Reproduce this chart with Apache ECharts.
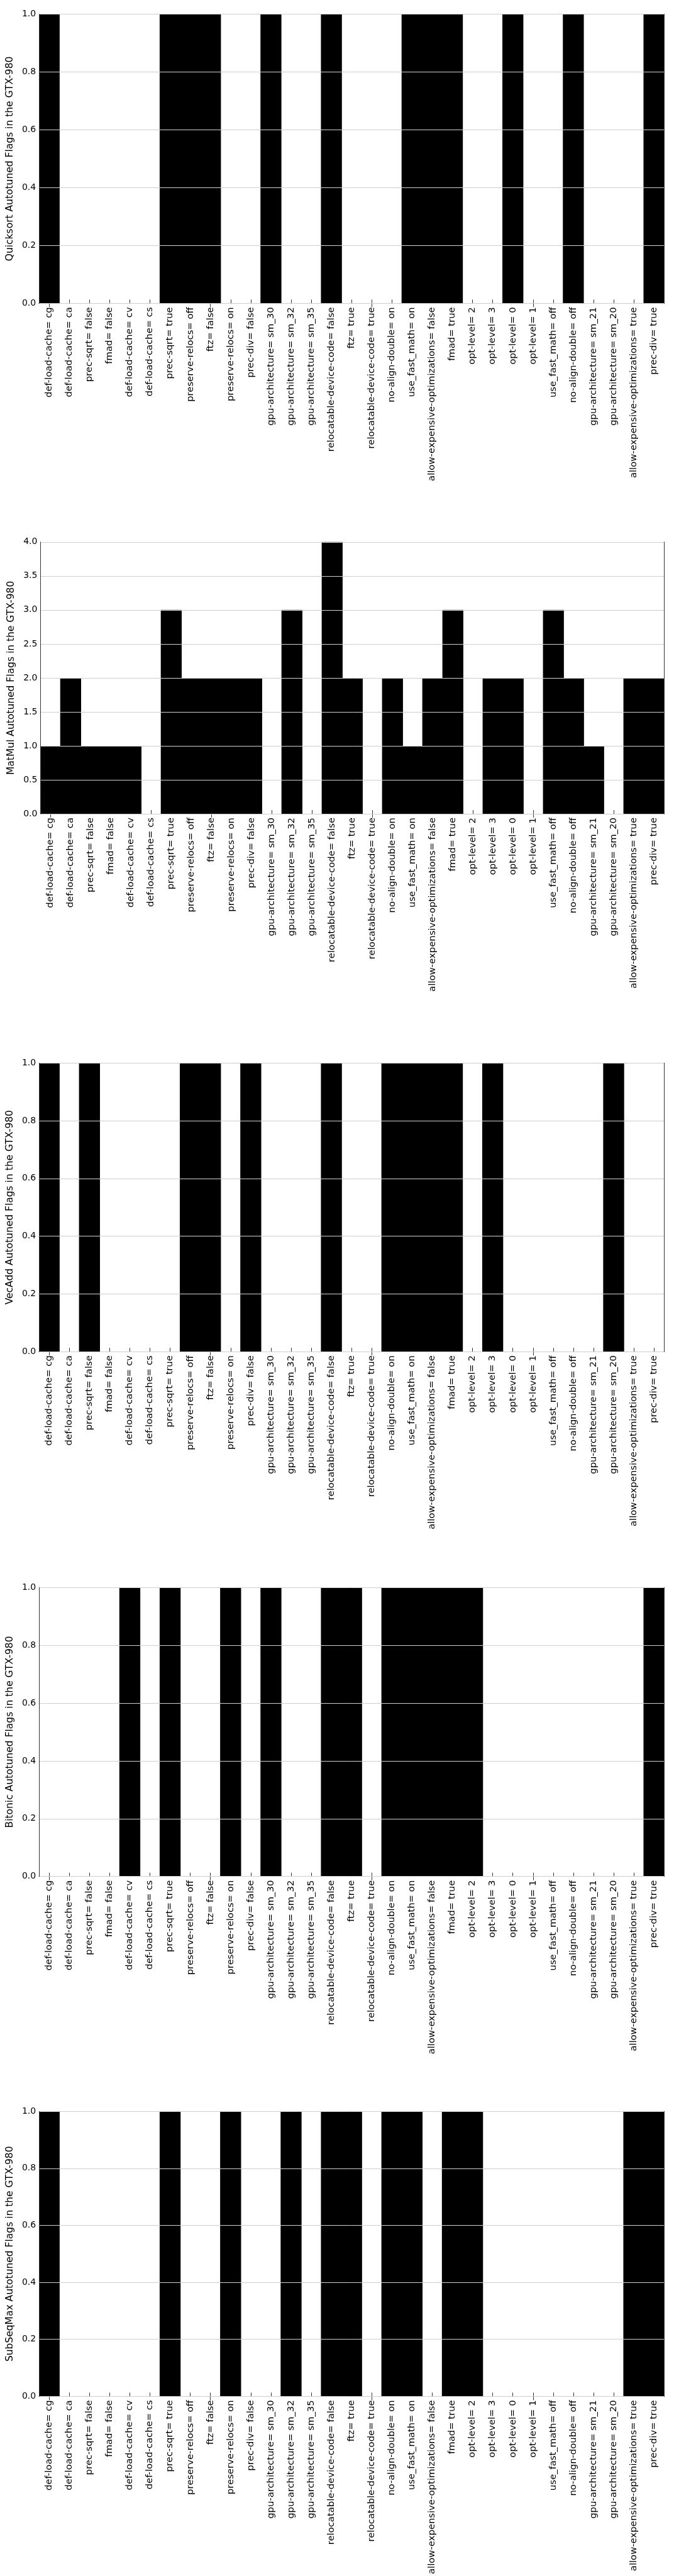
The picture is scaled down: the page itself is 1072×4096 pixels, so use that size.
<!DOCTYPE html>
<html>
<head>
<meta charset="utf-8">
<script src="https://cdn.jsdelivr.net/npm/echarts@6/dist/echarts.min.js"></script>
<style>
html,body{margin:0;padding:0;background:#fff;}
#chart{width:1072px;height:4096px;}
</style>
</head>
<body>
<div id="chart"></div>
<script>
const categories = [
  "def-load-cache= cg","def-load-cache= ca","prec-sqrt= false","fmad= false",
  "def-load-cache= cv","def-load-cache= cs","prec-sqrt= true","preserve-relocs= off",
  "ftz= false","preserve-relocs= on","prec-div= false","gpu-architecture= sm_30",
  "gpu-architecture= sm_32","gpu-architecture= sm_35","relocatable-device-code= false","ftz= true",
  "relocatable-device-code= true","no-align-double= on","use_fast_math= on","allow-expensive-optimizations= false",
  "fmad= true","opt-level= 2","opt-level= 3","opt-level= 0","opt-level= 1",
  "use_fast_math= off","no-align-double= off","gpu-architecture= sm_21","gpu-architecture= sm_20",
  "allow-expensive-optimizations= true","prec-div= true"
];
const quicksort = [1,0,0,0,0,0,1,1,1,0,0,1,0,0,1,0,0,0,1,1,1,0,0,1,0,0,1,0,0,0,1];
const matmul    = [1,2,1,1,1,0,3,2,2,2,2,0,3,0,4,2,0,2,1,2,3,0,2,2,0,3,2,1,0,2,2];
const vecadd    = [1,0,1,0,0,0,0,1,1,0,1,0,0,0,1,0,0,1,1,1,1,0,1,0,0,0,0,0,1,0,0];
const bitonic   = [0,0,0,0,1,0,1,0,0,1,0,1,0,0,1,1,0,1,1,1,1,1,0,0,0,0,0,0,0,0,1];
const subseqmax = [1,0,0,0,0,0,1,0,0,1,0,0,1,0,1,1,0,1,1,0,1,1,0,0,0,0,0,0,0,1,1];
const yTitles = [
  "Quicksort Autotuned Flags in the GTX-980",
  "MatMul Autotuned Flags in the GTX-980",
  "VecAdd Autotuned Flags in the GTX-980",
  "Bitonic Autotuned Flags in the GTX-980",
  "SubSeqMax Autotuned Flags in the GTX-980"
];
const yMax = [1, 4, 1, 1, 1];
const yStep = [0.2, 0.5, 0.2, 0.2, 0.2];

const panels = [quicksort, matmul, vecadd, bitonic, subseqmax];
const layout = [
  {left: 61.8, top: 22.5, width: 994.4, height: 459.8},
  {left: 64.4, top: 861.8, width: 991.8, height: 432.2},
  {left: 61.8, top: 1690.2, width: 994.4, height: 459.0},
  {left: 61.8, top: 2524.2, width: 994.4, height: 459.5},
  {left: 61.8, top: 3357.2, width: 994.4, height: 460.0}
];
const FONT = "DejaVu Sans";
const spine = {show: true, lineStyle: {color: '#333', width: 1}};

const grid = [], xAxis = [], yAxis = [], series = [];
panels.forEach((data, i) => {
  grid.push(Object.assign({containLabel: false, show: false}, layout[i]));
  xAxis.push({
    type: 'category', gridIndex: i, data: categories, position: 'bottom',
    boundaryGap: true, z: 0,
    axisLine: spine,
    axisTick: {show: true, inside: true, alignWithLabel: true, length: 6, lineStyle: {color: '#333', width: 1}},
    axisLabel: {rotate: 90, margin: 6, color: '#000', fontFamily: FONT, fontSize: 14.8, interval: 0},
    splitLine: {show: false}
  });
  xAxis.push({
    type: 'category', gridIndex: i, data: categories, position: 'top',
    boundaryGap: true, z: 0,
    axisLine: spine,
    axisTick: {show: true, inside: true, alignWithLabel: true, length: 6, lineStyle: {color: '#333', width: 1}},
    axisLabel: {show: false},
    splitLine: {show: false}
  });
  yAxis.push({
    type: 'value', gridIndex: i, min: 0, max: yMax[i], interval: yStep[i], position: 'left',
    z: 5,
    name: yTitles[i], nameLocation: 'middle', nameGap: 37, nameRotate: 90,
    nameTextStyle: {color: '#000', fontFamily: FONT, fontSize: 15.5},
    axisLine: spine,
    axisTick: {show: false},
    axisLabel: {color: '#000', fontFamily: FONT, fontSize: 14, margin: 5,
      formatter: v => v.toFixed(1)},
    splitLine: {show: true, lineStyle: {color: '#cfcfcf', width: 1}}
  });
  yAxis.push({
    type: 'value', gridIndex: i, min: 0, max: yMax[i], interval: yStep[i], position: 'right',
    z: 5,
    axisLine: spine,
    axisTick: {show: false},
    axisLabel: {show: false},
    splitLine: {show: false}
  });
  series.push({
    type: 'bar', xAxisIndex: 2 * i, yAxisIndex: 2 * i, data: data,
    barWidth: '104%',
    itemStyle: {color: '#000'},
    silent: true, animation: false, clip: true
  });
});

const chart = echarts.init(document.getElementById('chart'), null, {renderer: 'canvas'});
chart.setOption({
  backgroundColor: '#fff',
  animation: false,
  grid, xAxis, yAxis, series
});
</script>
</body>
</html>
